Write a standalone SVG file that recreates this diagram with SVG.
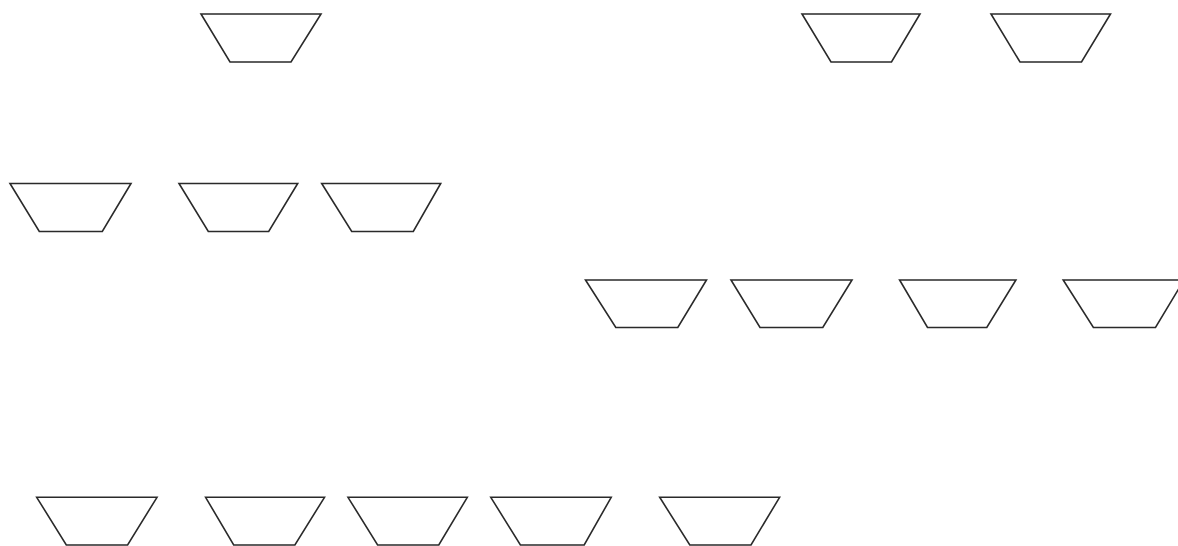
<svg xmlns="http://www.w3.org/2000/svg" width="1178" height="546" viewBox="0 0 1178 546">
<style>
.t{fill:#fff;stroke:#2a2a2a;stroke-width:1.6;stroke-linejoin:miter}
</style>
<rect width="1178" height="546" fill="#fff"/>
<g id="n1"><polygon class="t" points="201,14 321,14 291,62 230,62"/></g>
<g id="n2"><polygon class="t" points="802,14 920,14 891.5,62 831,62"/></g>
<g id="n3"><polygon class="t" points="991,14 1110.5,14 1081.5,62 1020,62"/></g>
<g id="n4"><polygon class="t" points="10,183.5 131,183.5 102.3,231.5 39.3,231.5"/></g>
<g id="n5"><polygon class="t" points="179,183.5 297.7,183.5 268.7,231.5 208.3,231.5"/></g>
<g id="n6"><polygon class="t" points="321.7,183.5 440.7,183.5 413.3,231.5 351.7,231.5"/></g>
<g id="n7"><polygon class="t" points="585.5,280 706.5,280 677.8,327.5 615.8,327.5"/></g>
<g id="n8"><polygon class="t" points="731,280 852,280 822.8,327.5 760,327.5"/></g>
<g id="n9"><polygon class="t" points="899.6,280 1015.9,280 986.8,327.5 927.5,327.5"/></g>
<g id="n10"><polygon class="t" points="1063.2,280 1184,280 1155.5,327.5 1093.4,327.5"/></g>
<g id="n11"><polygon class="t" points="36.7,497.3 157,497.3 127.6,545 66.3,545"/></g>
<g id="n12"><polygon class="t" points="205.6,497.3 324.5,497.3 294.9,545 233.7,545"/></g>
<g id="n13"><polygon class="t" points="348,497.3 467.3,497.3 438.8,545 377.6,545"/></g>
<g id="n14"><polygon class="t" points="490.8,497.3 611.2,497.3 584.2,545 520.4,545"/></g>
<g id="n15"><polygon class="t" points="659.7,497.3 779.6,497.3 751,545 689.8,545"/></g>
<g id="connectors"></g>
</svg>
